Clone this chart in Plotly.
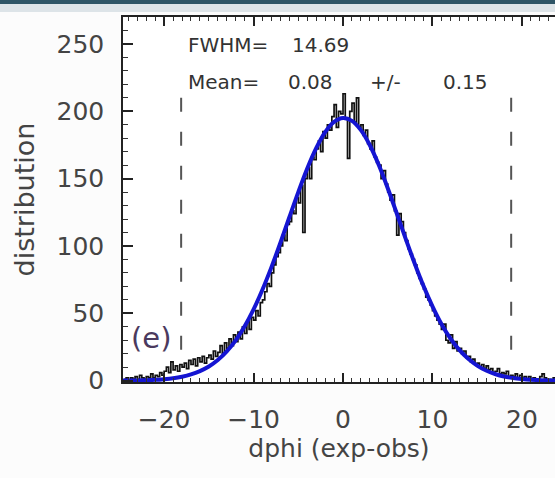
import plotly.graph_objects as go

# ---------------- data ----------------
bin_start = -24.5
bin_width = 0.25
counts = [1, 2,
          0, 2, 1, 3,
          1, 4, 2, 1,
          3, 2, 5, 2,
          4, 3, 6, 4,
          7, 10, 6, 14,
          8, 11, 7, 12,
          10, 13, 9, 15,
          12, 16, 11, 17,
          14, 18, 13, 17,
          19, 16, 22, 18,
          21, 26, 20, 28,
          24, 31, 26, 34,
          29, 36, 31, 40,
          35, 44, 38, 47,
          45, 52, 48, 58,
          60, 66, 72, 70,
          80, 86, 92, 95,
          100, 108, 104, 116,
          118, 126, 124, 136,
          132, 145, 110, 150,
          158, 150, 166, 164,
          172, 178, 170, 185,
          180, 190, 186, 196,
          205, 188, 200, 198,
          213, 195, 165, 200,
          206, 192, 210, 188,
          190, 182, 186, 176,
          172, 178, 166, 162,
          160, 150, 156, 146,
          140, 134, 138, 126,
          108, 124, 118, 110,
          104, 98, 94, 90,
          86, 80, 76, 72,
          68, 62, 60, 56,
          52, 48, 45, 42,
          38, 42, 30, 28,
          34, 24, 29, 22,
          24, 20, 22, 17,
          18, 14, 16, 12,
          13, 10, 12, 9,
          11, 8, 9, 6,
          7, 9, 5, 6,
          5, 7, 3, 4,
          3, 5, 2, 4,
          2, 3, 1, 3,
          1, 2, 1, 0,
          3, 5, 2, 1,
          1, 0, 2, 1]

fit_x = list(range(-25, 25))
fit_y = [0.05, 0.09, 0.18, 0.33, 0.6, 1.1, 1.8, 2.9, 4.6, 7.1,
         10.5, 15.3, 21.7, 29.9, 40.3, 52.9, 67.7, 84.3, 102.4, 121.3,
         140.0, 157.5, 172.6, 184.5, 192.1, 195.0, 192.9, 186.0, 174.8, 160.1,
         142.9, 124.3, 105.4, 87.2, 70.2, 55.2, 42.1, 31.4, 22.8, 16.2,
         11.2, 7.5, 4.95, 3.1, 1.96, 1.2, 0.67, 0.38, 0.2, 0.1]

cut_x = [-18.1, 18.8]
cut_y = [23, 214]

fwhm = 14.69
mean = 0.08
mean_err = 0.15
panel_label = "(e)"

x_ticks = [-20, -10, 0, 10, 20]
y_ticks = [0, 50, 100, 150, 200, 250]

# ---------------- figure ----------------
edges = [bin_start + i * bin_width for i in range(len(counts) + 1)]
hist_y = counts + [counts[-1]]

W, H = 555, 478
L, R, T, B = 123, 0, 17, 96
pw, ph = W - L - R, H - T - B


def pxx(xp):
    return (xp - L) / pw


def pxy(yp):
    return (H - B - yp) / ph


fig = go.Figure()
for cx in cut_x:
    fig.add_trace(go.Scatter(x=[cx, cx], y=cut_y, mode="lines",
                             line=dict(color="#555555", width=2, dash="14px,20px"),
                             hoverinfo="skip", showlegend=False))
fig.add_trace(go.Scatter(x=edges, y=hist_y, mode="lines",
                         line=dict(shape="hv", color="#111111", width=1.7),
                         showlegend=False))
fig.add_trace(go.Scatter(x=fit_x, y=fit_y, mode="lines",
                         line=dict(shape="spline", color="#1515d2", width=4),
                         showlegend=False))

font_family = "DejaVu Sans"
txt_color = "#333333"

ann = []


def add_text(text, xp, yp, size=20, color=txt_color):
    ann.append(dict(text=text, x=pxx(xp), y=pxy(yp), xref="paper", yref="paper",
                    xanchor="left", yanchor="middle", showarrow=False,
                    font=dict(family=font_family, size=size, color=color)))


add_text("FWHM=", 186, 45)
add_text(f"{fwhm:.2f}", 290, 45)
add_text("Mean=", 186, 82)
add_text(f"{mean:.2f}", 286, 82)
add_text("+/-", 368, 82)
add_text(f"{mean_err:.2f}", 441, 82)
add_text(panel_label, 129, 338, size=29, color="#4b3a5e")

shapes = [
    dict(type="rect", xref="paper", yref="paper", x0=-L / pw, x1=1,
         y0=1 + (T - 12) / ph, y1=1 + T / ph, fillcolor="#dde4e8", line=dict(width=0)),
    dict(type="rect", xref="paper", yref="paper", x0=-L / pw, x1=1,
         y0=1 + (T - 4) / ph, y1=1 + T / ph, fillcolor="#2e5566", line=dict(width=0)),
]

fig.update_layout(
    width=W, height=H,
    margin=dict(l=L, r=R, t=T, b=B, pad=0),
    paper_bgcolor="#fcfcfc", plot_bgcolor="white",
    showlegend=False,
    annotations=ann, shapes=shapes,
    font=dict(family=font_family, color="#444444"),
    xaxis=dict(range=[-24.6, 23.7], tickmode="array", tickvals=x_ticks,
               ticks="inside", ticklen=9, tickwidth=1.5, tickcolor="#222",
               showline=True, linecolor="#222", linewidth=1.5, mirror="ticks",
               showgrid=False, zeroline=False,
               minor=dict(ticks="inside", ticklen=4, dtick=1, tick0=0,
                          tickcolor="#333", tickwidth=1, showgrid=False),
               tickfont=dict(family=font_family, size=25, color="#444"),
               ticklabelstandoff=14,
               title=dict(text="dphi (exp-obs)", standoff=4,
                          font=dict(family=font_family, size=25, color="#444"))),
    yaxis=dict(range=[-1, 270], tickmode="array", tickvals=y_ticks,
               ticks="inside", ticklen=10, tickwidth=1.5, tickcolor="#222",
               showline=True, linecolor="#222", linewidth=1.5, mirror=False,
               showgrid=False, zeroline=False,
               minor=dict(ticks="inside", ticklen=5, dtick=10, tick0=0,
                          tickcolor="#333", tickwidth=1, showgrid=False),
               tickfont=dict(family=font_family, size=25, color="#444"),
               ticklabelstandoff=12,
               title=dict(text="distribution", standoff=14,
                          font=dict(family=font_family, size=27, color="#444"))),
)

fig.write_html("out.html")
